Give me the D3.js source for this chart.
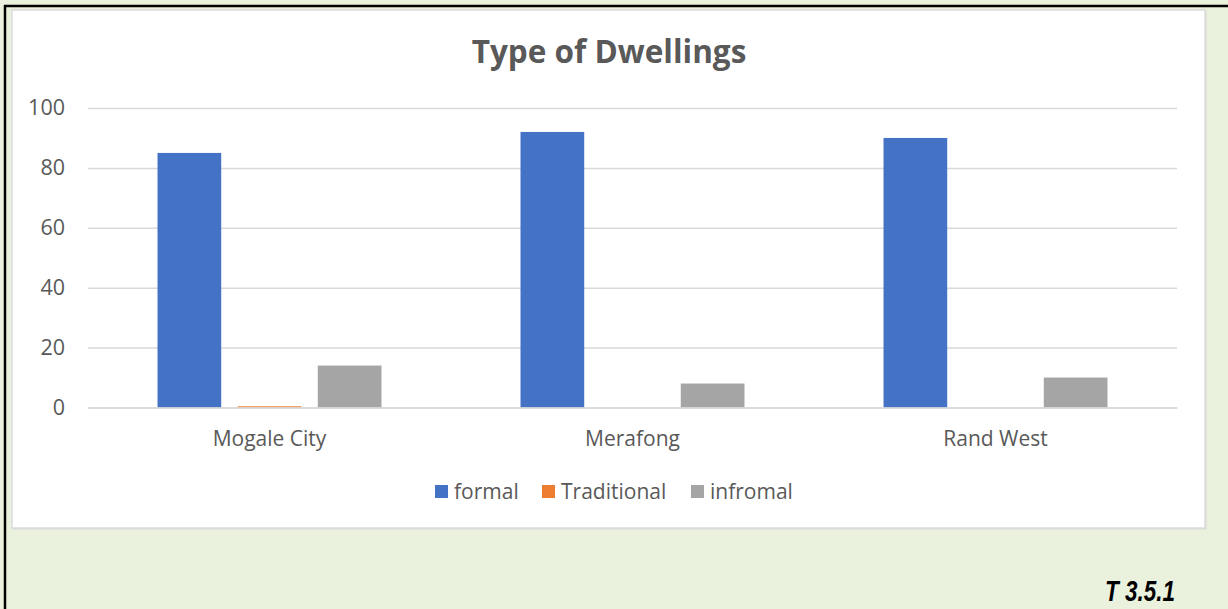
<!DOCTYPE html>
<html>
<head>
<meta charset="utf-8">
<script src="https://cdn.jsdelivr.net/npm/d3@7"></script>
<style>
  html, body { margin: 0; padding: 0; background: #EAF1DD; }
  svg { display: block; }
</style>
</head>
<body>
<svg id="chart" width="1228" height="609"></svg>
<script>
// Share of dwelling types per local municipality (%)
const categories = ["Mogale City", "Merafong", "Rand West"];
const seriesNames = ["formal", "Traditional", "infromal"];
const formal = [85, 92, 90];
const traditional = [0.4, 0, 0];
const infromal = [14, 8, 10];
const yTicks = [0, 20, 40, 60, 80, 100];
const colors = ["#4472C4", "#ED7D31", "#A5A5A5"];

const seriesValues = [formal, traditional, infromal];
const rows = categories.map((c, i) => ({
  category: c,
  values: seriesNames.map((s, k) => ({ series: s, value: seriesValues[k][i], color: colors[k] }))
}));

const svg = d3.select("#chart");
const font = "'Open Sans', 'Noto Sans', sans-serif";
const textColor = "#595959";

// page frame: black rules on top and left
svg.append("rect").attr("x", 0).attr("y", 0).attr("width", 1228).attr("height", 609).attr("fill", "#EAF1DD");
svg.append("line").attr("x1", 4).attr("x2", 1228).attr("y1", 6).attr("y2", 6).attr("stroke", "#000").attr("stroke-width", 2.5);
svg.append("line").attr("x1", 5).attr("x2", 5).attr("y1", 5).attr("y2", 609).attr("stroke", "#000").attr("stroke-width", 2.5);

// chart card
svg.append("rect").attr("x", 12.5).attr("y", 10.5).attr("width", 1194).attr("height", 519)
  .attr("fill", "#D9D9D9");
svg.append("rect").attr("x", 12).attr("y", 10).attr("width", 1193).attr("height", 518)
  .attr("fill", "#fff").attr("stroke", "#DCDCDC").attr("stroke-width", 1.5);

const plot = { left: 88, right: 1177, top: 108, bottom: 407.5 };

const y = d3.scaleLinear().domain([0, 100]).range([plot.bottom, plot.top]);
const x0 = d3.scaleBand().domain(categories).range([plot.left, plot.right])
  .paddingInner(0.383).paddingOuter(0.1915);
const x1 = d3.scaleBand().domain(seriesNames).range([0, x0.bandwidth()])
  .paddingInner(0.205).paddingOuter(0);

// gridlines
const yAxis = d3.axisLeft(y).tickValues(yTicks).tickSize(-(plot.right - plot.left)).tickPadding(23);
const gy = svg.append("g").attr("transform", `translate(${plot.left},0)`).call(yAxis);
gy.select(".domain").remove();
gy.selectAll(".tick line").attr("stroke", "#D9D9D9").attr("stroke-width", 1.5);
gy.selectAll(".tick text").attr("fill", textColor).style("font-family", font).style("font-size", "21.5px");

// bars
const groups = svg.append("g").selectAll("g").data(rows).join("g")
  .attr("transform", d => `translate(${x0(d.category)},0)`);
groups.selectAll("rect").data(d => d.values.filter(v => v.value > 0)).join("rect")
  .attr("x", d => x1(d.series))
  .attr("width", x1.bandwidth())
  .attr("y", d => y(d.value))
  .attr("height", d => y(0) - y(d.value))
  .attr("fill", d => d.color);

// category axis
const xAxis = d3.axisBottom(x0).tickSize(0).tickPadding(24);
const gx = svg.append("g").attr("transform", `translate(0,${plot.bottom})`).call(xAxis);
gx.select(".domain").attr("stroke", "#D9D9D9").attr("stroke-width", 1.5);
gx.selectAll(".tick text").attr("fill", textColor).style("font-family", font).style("font-size", "21px");

// title
svg.append("text").attr("x", 609).attr("y", 63).attr("text-anchor", "middle")
  .attr("fill", textColor).style("font-family", font).style("font-size", "31.5px").style("font-weight", "bold")
  .text("Type of Dwellings");

// legend
const legendX = [435, 542, 691];
const legend = svg.append("g").selectAll("g").data(seriesNames).join("g")
  .attr("transform", (d, i) => `translate(${legendX[i]},485)`);
legend.append("rect").attr("width", 13).attr("height", 13).attr("fill", (d, i) => colors[i]);
legend.append("text").attr("x", 19).attr("y", 14).attr("fill", textColor)
  .style("font-family", font).style("font-size", "21px").text(d => d);

// table reference
svg.append("text").attr("x", 1105).attr("y", 601)
  .attr("textLength", 70).attr("lengthAdjust", "spacingAndGlyphs")
  .style("font-family", "'Liberation Sans Narrow', 'Liberation Sans', Arial, sans-serif").style("font-size", "29px")
  .style("font-weight", "bold").style("font-style", "italic").attr("fill", "#000")
  .text("T 3.5.1");
</script>
</body>
</html>
